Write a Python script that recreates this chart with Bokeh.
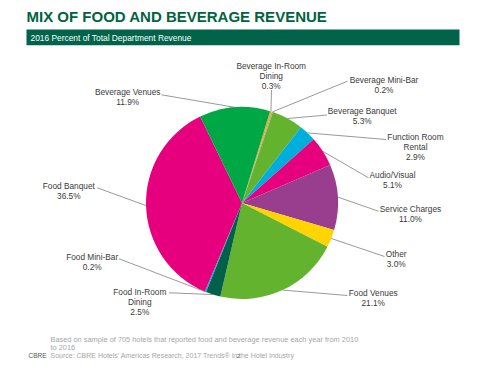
import math
from bokeh.plotting import figure
from bokeh.models import Range1d, ColumnDataSource
from bokeh.core.properties import value
from bokeh.embed import file_html
from bokeh.resources import INLINE

# ---------------- data ----------------
categories = ["Beverage In-Room Dining", "Beverage Mini-Bar", "Beverage Banquet",
              "Function Room Rental", "Audio/Visual", "Service Charges", "Other",
              "Food Venues", "Food In-Room Dining", "Food Mini-Bar", "Food Banquet",
              "Beverage Venues"]
shares = [0.3, 0.2, 5.3, 2.9, 5.1, 11.0, 3.0, 21.1, 2.5, 0.2, 36.5, 11.9]
label_names = [["Beverage In-Room", "Dining"], ["Beverage Mini-Bar"], ["Beverage Banquet"],
               ["Function Room", "Rental"], ["Audio/Visual"], ["Service Charges"], ["Other"],
               ["Food Venues"], ["Food In-Room", "Dining"], ["Food Mini-Bar"], ["Food Banquet"],
               ["Beverage Venues"]]
colors = ["#F2A900", "#A8A8A8", "#64B32E", "#00AEDB", "#E6007E", "#993D8E", "#FFD400",
          "#64B32E", "#00604A", "#00AEDB", "#E6007E", "#00A845"]

title = "MIX OF FOOD AND BEVERAGE REVENUE"
subtitle = "2016 Percent of Total Department Revenue"
notes = ["Based on sample of 705 hotels that reported food and beverage revenue each year from 2010",
         "to 2016"]
source_note = "Source: CBRE Hotels\u2019 Americas Research, 2017 Trends\u00ae in the Hotel Industry"

# ---------------- layout (page pixel coordinates) ----------------
W, H = 472, 363
def Y(py):
    return H - py

PIE_X, PIE_Y, PIE_R = 241.5, 202.5, 96
START_CW = 17.0
# label text center x, first-line center y, leader anchor x, anchor y
lab_cx = [270.7, 383.5, 361.7, 415.0, 392.0, 410.0, 395.7, 372.7, 139.3, 91.7, 68.3, 127.2]
lab_y0 = [65.7, 79.0, 110.0, 136.0, 174.0, 208.3, 253.3, 292.7, 291.7, 256.7, 185.0, 91.0]
anc_x = [271.0, 347.0, 326.5, 385.5, 368.0, 378.0, 384.0, 347.0, 168.5, 118.5, 96.7, 161.0]
anc_y = [89.5, 80.7, 114.5, 139.0, 177.3, 210.7, 256.0, 295.0, 292.3, 258.3, 187.3, 94.3]

p = figure(width=W, height=H, x_range=Range1d(0, W), y_range=Range1d(0, H),
           output_backend="svg", toolbar_location=None, x_axis_type=None, y_axis_type=None,
           min_border=0, outline_line_color=None, background_fill_color="white")

# title & banner
p.text(x=[26], y=[Y(16)], text=[title], text_font=value("Liberation Sans"),
       text_font_style="bold", text_font_size="15px", text_color="#00633F",
       text_baseline="middle", text_align="left")
p.quad(left=[26], right=[459], top=[Y(29)], bottom=[Y(44.7)], fill_color="#00634A", line_color=None)
p.text(x=[30], y=[Y(37)], text=[subtitle], text_font=value("Liberation Sans"),
       text_font_size="8.4px", text_color="white", text_baseline="middle", text_align="left")

# pie wedges
starts, ends, mids = [], [], []
cum = 0.0
for v in shares:
    s = START_CW + cum * 3.6
    e = s + v * 3.6
    starts.append(math.radians(90 - s))
    ends.append(math.radians(90 - e))
    mids.append((s + e) / 2)
    cum += v

src = ColumnDataSource(dict(cat=categories, share=shares, color=colors,
                            start=starts, end=ends))
p.wedge(x=PIE_X, y=Y(PIE_Y), radius=PIE_R, start_angle="start", end_angle="end",
        direction="clock", fill_color="color", line_color=None, source=src)

# leader lines
xs, ys = [], []
for i, m in enumerate(mids):
    ex = PIE_X + PIE_R * math.sin(math.radians(m))
    ey = Y(PIE_Y) + PIE_R * math.cos(math.radians(m))
    xs.append([ex, anc_x[i]])
    ys.append([ey, Y(anc_y[i])])
p.multi_line(xs=xs, ys=ys, line_color="#7F7F7F", line_width=0.8)

# labels
tx, ty, tt = [], [], []
for i, v in enumerate(shares):
    lines = label_names[i] + [f"{v:.1f}%"]
    for j, ln in enumerate(lines):
        tx.append(lab_cx[i])
        ty.append(Y(lab_y0[i] + 10 * j))
        tt.append(ln)
p.text(x=tx, y=ty, text=tt, text_font=value("Liberation Sans"), text_font_size="8.3px",
       text_color="#3A3A3A", text_align="center", text_baseline="middle")

# footnotes
p.text(x=[50, 50], y=[Y(339), Y(346.7)], text=notes,
       text_font=value("Liberation Sans"), text_font_size="7.4px", text_color="#A6A6A6",
       text_align="left", text_baseline="middle")
p.text(x=[50], y=[Y(354.7)], text=[source_note],
       text_font=value("Liberation Sans"), text_font_size="7px", text_color="#A6A6A6",
       text_align="left", text_baseline="middle")
p.text(x=[28], y=[Y(355)], text=["CBRE"], text_font=value("Liberation Sans"),
       text_font_size="6.5px", text_color="#555555", text_align="left", text_baseline="middle")
p.text(x=[238], y=[Y(355)], text=["2"], text_font=value("Liberation Sans"),
       text_font_size="6px", text_color="#555555", text_align="center", text_baseline="middle")

open("out.html", "w").write(file_html(p, INLINE))
